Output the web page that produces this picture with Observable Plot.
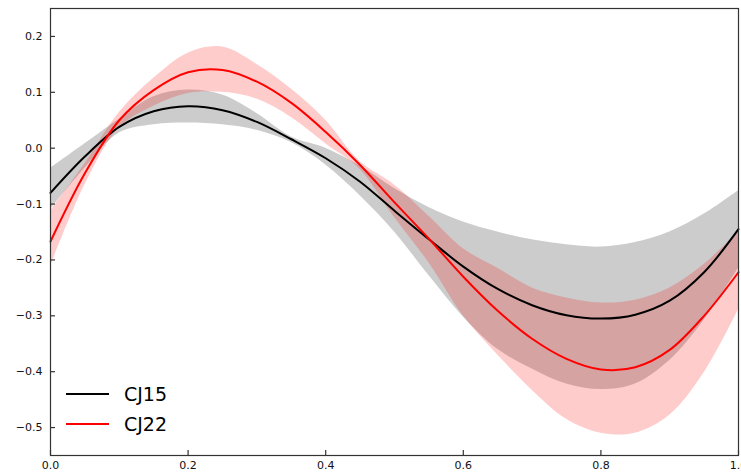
<!DOCTYPE html>
<html>
<head>
<meta charset="utf-8">
<script src="https://cdn.jsdelivr.net/npm/d3@7"></script>
<script src="https://cdn.jsdelivr.net/npm/@observablehq/plot@0.6"></script>
<style>
  html, body { margin: 0; padding: 0; background: white; overflow: hidden; }
  #wrap { position: relative; width: 741px; height: 474px; }
  #legend { position: absolute; left: 66px; top: 379px; font-family: "DejaVu Sans", sans-serif; font-size: 19px; color: #000; }
  .row { display: flex; align-items: center; height: 30px; }
  .sw { width: 43px; height: 2px; margin-right: 15px; }
</style>
</head>
<body>
<div id="wrap"><div id="legend"></div></div>
<script>
// sampled x positions
const xs     = [0, 0.05, 0.1, 0.15, 0.2, 0.25, 0.3, 0.35, 0.4, 0.45, 0.5, 0.55, 0.6, 0.65, 0.7, 0.75, 0.8, 0.85, 0.9, 0.95, 1.0];
// CJ15 central curve and band
const cj15   = [-0.080, -0.015, 0.038, 0.066, 0.075, 0.068, 0.047, 0.016, -0.018, -0.060, -0.112, -0.163, -0.212, -0.252, -0.281, -0.299, -0.305, -0.298, -0.273, -0.222, -0.145];
const cj15Hi = [-0.036, 0.008, 0.052, 0.092, 0.104, 0.095, 0.062, 0.020, 0.000, -0.032, -0.072, -0.106, -0.132, -0.150, -0.164, -0.173, -0.177, -0.169, -0.150, -0.118, -0.076];
const cj15Lo = [-0.110, -0.036, 0.027, 0.042, 0.045, 0.042, 0.032, 0.010, -0.030, -0.085, -0.150, -0.228, -0.302, -0.360, -0.395, -0.422, -0.432, -0.422, -0.380, -0.308, -0.215];
// CJ22 central curve and band
const cj22   = [-0.167, -0.045, 0.050, 0.104, 0.136, 0.140, 0.119, 0.081, 0.029, -0.030, -0.097, -0.162, -0.230, -0.291, -0.341, -0.377, -0.396, -0.392, -0.361, -0.300, -0.222];
const cj22Hi = [-0.113, -0.028, 0.064, 0.125, 0.170, 0.181, 0.150, 0.106, 0.050, -0.024, -0.066, -0.122, -0.180, -0.215, -0.250, -0.268, -0.277, -0.272, -0.250, -0.208, -0.150];
const cj22Lo = [-0.212, -0.066, 0.036, 0.075, 0.098, 0.100, 0.088, 0.055, 0.008, -0.038, -0.124, -0.205, -0.300, -0.370, -0.433, -0.485, -0.510, -0.510, -0.478, -0.402, -0.289];
// axis ticks
const xTicks = [0, 0.2, 0.4, 0.6, 0.8, 1.0];
const yTicks = [-0.5, -0.4, -0.3, -0.2, -0.1, 0.0, 0.1, 0.2];
const seriesNames = ["CJ15", "CJ22"];
const seriesColors = ["#000000", "#ff0000"];

const rows15 = xs.map((x, i) => ({x, y: cj15[i], lo: cj15Lo[i], hi: cj15Hi[i]}));
const rows22 = xs.map((x, i) => ({x, y: cj22[i], lo: cj22Lo[i], hi: cj22Hi[i]}));

const W = 741, H = 474;
const mL = 50, mR = 3, mT = 8, mB = 19;
const fmt = d => d.toFixed(1).replace("-", "\u2212");
const crv = "catmull-rom";

const chart = Plot.plot({
  width: W, height: H,
  marginLeft: mL, marginRight: mR, marginTop: mT, marginBottom: mB,
  style: {fontFamily: "DejaVu Sans, sans-serif", fontSize: "11px", color: "#111", background: "white"},
  x: {domain: [0, 1]},
  y: {domain: [-0.55, 0.25]},
  marks: [
    Plot.areaY(rows15, {x: "x", y1: "lo", y2: "hi", fill: seriesColors[0], fillOpacity: 0.2, curve: crv}),
    Plot.areaY(rows22, {x: "x", y1: "lo", y2: "hi", fill: seriesColors[1], fillOpacity: 0.2, curve: crv}),
    Plot.lineY(rows15, {x: "x", y: "y", stroke: seriesColors[0], strokeWidth: 2, curve: crv}),
    Plot.lineY(rows22, {x: "x", y: "y", stroke: seriesColors[1], strokeWidth: 2, curve: crv}),
    Plot.tickX(xTicks, {x: d => d, stroke: "#333", strokeWidth: 1.2, insetTop: H - mT - mB - 5}),
    Plot.tickY(yTicks, {y: d => d, stroke: "#333", strokeWidth: 1.2, insetRight: W - mL - mR - 5}),
    Plot.axisX(xTicks, {tickSize: 0, tickPadding: 6, tickFormat: fmt, label: null}),
    Plot.axisY(yTicks, {tickSize: 0, tickPadding: 8, tickFormat: fmt, label: null}),
    Plot.frame({stroke: "#333", strokeWidth: 1.2})
  ]
});
document.getElementById("wrap").prepend(chart);

const legend = document.getElementById("legend");
seriesNames.forEach((n, i) => {
  const r = document.createElement("div");
  r.className = "row";
  const s = document.createElement("div");
  s.className = "sw";
  s.style.background = seriesColors[i];
  const t = document.createElement("span");
  t.textContent = n;
  r.appendChild(s); r.appendChild(t);
  legend.appendChild(r);
});
</script>
</body>
</html>
